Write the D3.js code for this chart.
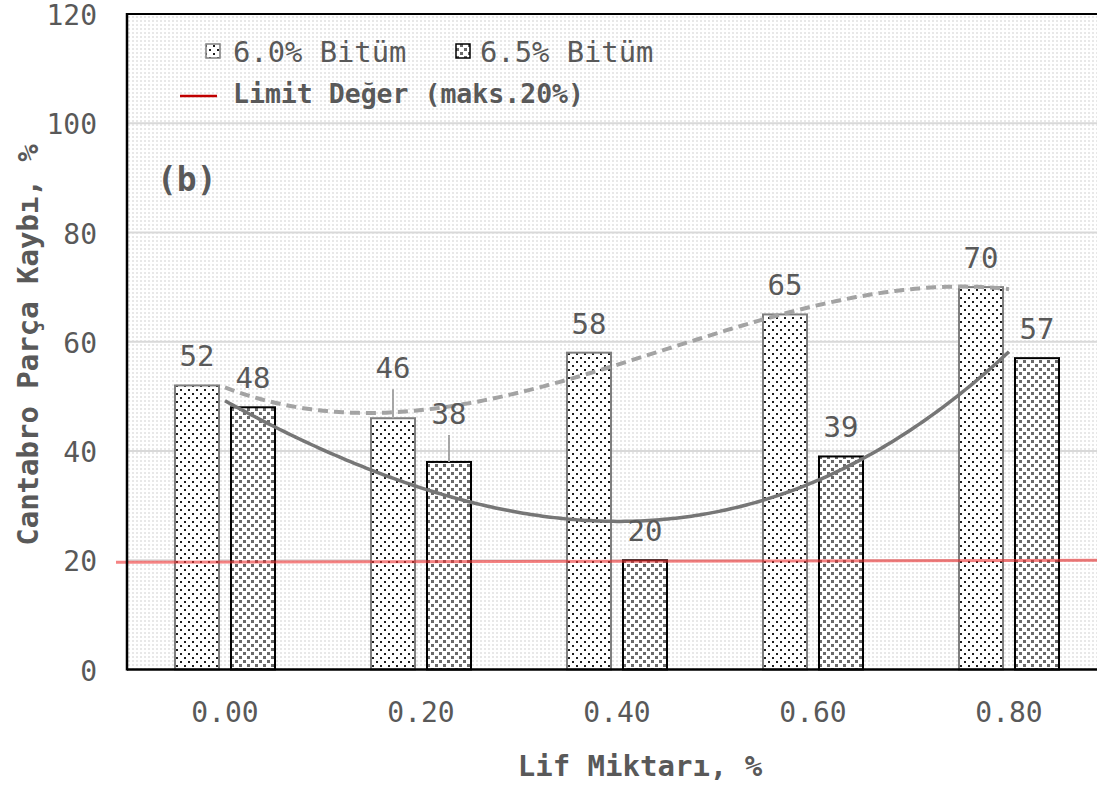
<!DOCTYPE html>
<html>
<head>
<meta charset="utf-8">
<script src="https://cdn.jsdelivr.net/npm/d3@7"></script>
<style>
  body { margin: 0; background: #fff; }
  text { font-family: "DejaVu Sans Mono", monospace; fill: #595959; }
</style>
</head>
<body>
<svg id="chart" width="1097" height="787"></svg>
<script>
// ---- data ----
const categories = ["0.00", "0.20", "0.40", "0.60", "0.80"];
const seriesNames = ["6.0% Bitüm", "6.5% Bitüm"];
const bitumen60 = [52, 46, 58, 65, 70];
const bitumen65 = [48, 38, 20, 39, 57];
const yTicks = [0, 20, 40, 60, 80, 100, 120];
const limitValue = 20;
const limitLabel = "Limit Değer (maks.20%)";
const panelLabel = "(b)";
const xTitle = "Lif Miktarı, %";
const yTitle = "Cantabro Parça Kaybı, %";

// ---- layout ----
const W = 1097, H = 787;
const plot = { left: 127, right: 1107, top: 14, bottom: 669.5 };
// labels moved up with a leader line (extra lift in px)
const labelLift = { "6.0% Bitüm": [0, 21, 0, 0, 0], "6.5% Bitüm": [0, 19, 0, 0, 0] };

const svg = d3.select("#chart");
svg.append("rect").attr("width", W).attr("height", H).attr("fill", "#fff");

const defs = svg.append("defs");
function dotPattern(id, size, cell, color, pts) {
  const p = defs.append("pattern").attr("id", id)
    .attr("patternUnits", "userSpaceOnUse").attr("width", size).attr("height", size);
  p.append("rect").attr("width", size).attr("height", size).attr("fill", "#fff");
  pts.forEach(([x, y]) => p.append("rect").attr("x", x).attr("y", y)
    .attr("width", cell).attr("height", cell).attr("fill", color));
}
dotPattern("bgDots", 4, 2, "#e8e8e8", [[0, 0]]);
dotPattern("fill60", 8, 2, "#1e1e1e", [[1, 1], [5, 5]]);
dotPattern("fill65", 8, 3, "#6a6a6a", [[0, 0], [4, 4]]);
const fills = { "6.0% Bitüm": "url(#fill60)", "6.5% Bitüm": "url(#fill65)" };
const strokes = { "6.0% Bitüm": "#7f7f7f", "6.5% Bitüm": "#000" };

// ---- scales ----
const x = d3.scaleBand().domain(categories).range([plot.left, plot.right]).padding(0);
const xs = d3.scaleBand().domain(seriesNames).range([0, x.bandwidth()])
  .paddingInner(12 / 56).paddingOuter(48 / 56);
const y = d3.scaleLinear().domain([0, 120]).range([plot.bottom, plot.top]);
const xIdx = d3.scaleLinear().domain([0, categories.length - 1])
  .range([x(categories[0]) + x.bandwidth() / 2, x(categories[categories.length - 1]) + x.bandwidth() / 2]);

const rows = categories.map((c, i) => ({ cat: c, i, values: [
  { s: seriesNames[0], v: bitumen60[i] }, { s: seriesNames[1], v: bitumen65[i] }] }));

// ---- plot background ----
svg.append("rect").attr("x", plot.left).attr("y", plot.top)
  .attr("width", plot.right - plot.left).attr("height", plot.bottom - plot.top)
  .attr("fill", "url(#bgDots)");

// gridlines
svg.append("g").selectAll("line").data(yTicks.filter(t => t > 0 && t < 120)).join("line")
  .attr("x1", plot.left).attr("x2", plot.right)
  .attr("y1", d => y(d)).attr("y2", d => y(d))
  .attr("stroke", "#d9d9d9").attr("stroke-width", 2);

// bars
const groups = svg.append("g").selectAll("g").data(rows).join("g")
  .attr("transform", d => `translate(${x(d.cat)},0)`);
groups.selectAll("rect").data(d => d.values).join("rect")
  .attr("x", d => xs(d.s)).attr("width", xs.bandwidth())
  .attr("y", d => y(d.v)).attr("height", d => y(0) - y(d.v))
  .attr("fill", d => fills[d.s]).attr("stroke", d => strokes[d.s]).attr("stroke-width", 2);

// limit line
svg.append("line").attr("x1", 116).attr("x2", W)
  .attr("y1", y(limitValue) + 2).attr("y2", y(limitValue))
  .attr("stroke", "#ee3030").attr("stroke-opacity", 0.6).attr("stroke-width", 3);

// polynomial (order 3) least-squares trendlines
function polyFit(vals, order) {
  const n = order + 1;
  const A = Array.from({ length: n }, () => new Array(n + 1).fill(0));
  vals.forEach((v, i) => {
    for (let r = 0; r < n; r++) {
      for (let c = 0; c < n; c++) A[r][c] += Math.pow(i, r + c);
      A[r][n] += v * Math.pow(i, r);
    }
  });
  for (let k = 0; k < n; k++) {
    let p = k;
    for (let r = k + 1; r < n; r++) if (Math.abs(A[r][k]) > Math.abs(A[p][k])) p = r;
    [A[k], A[p]] = [A[p], A[k]];
    for (let r = 0; r < n; r++) {
      if (r === k) continue;
      const f = A[r][k] / A[k][k];
      for (let c = k; c <= n; c++) A[r][c] -= f * A[k][c];
    }
  }
  const coef = A.map((row, k) => row[n] / row[k]);
  return t => coef.reduce((s, a, k) => s + a * Math.pow(t, k), 0);
}
const line = d3.line().x(d => xIdx(d[0])).y(d => y(d[1]));
const samples = d3.range(0, 4.0001, 0.02).map(t => Math.min(t, categories.length - 1));
const f60 = polyFit(bitumen60, 3), f65 = polyFit(bitumen65, 3);
svg.append("path").attr("d", line(samples.map(t => [t, f60(t)])))
  .attr("fill", "none").attr("stroke", "#a3a3a3").attr("stroke-width", 4)
  .attr("stroke-dasharray", "10,6");
svg.append("path").attr("d", line(samples.map(t => [t, f65(t)])))
  .attr("fill", "none").attr("stroke", "#767676").attr("stroke-width", 3.5);

// axes lines
svg.append("line").attr("x1", plot.left).attr("x2", plot.right).attr("y1", plot.top).attr("y2", plot.top)
  .attr("stroke", "#000").attr("stroke-width", 2);
svg.append("line").attr("x1", plot.left).attr("x2", plot.left).attr("y1", plot.top - 1).attr("y2", plot.bottom + 1)
  .attr("stroke", "#000").attr("stroke-width", 2.5);
svg.append("line").attr("x1", plot.left).attr("x2", plot.right).attr("y1", plot.bottom).attr("y2", plot.bottom)
  .attr("stroke", "#000").attr("stroke-width", 2.5);

// y tick labels
const yAxis = svg.append("g").attr("transform", `translate(${plot.left},0)`)
  .call(d3.axisLeft(y).tickValues(yTicks).tickSize(0).tickPadding(30));
yAxis.select(".domain").remove();
yAxis.selectAll("text").attr("font-size", 28).attr("dy", "0.38em")
  .style("font-family", '"DejaVu Sans Mono", monospace').attr("fill", "#595959");

// x tick labels
const xAxis = svg.append("g").attr("transform", `translate(0,${plot.bottom})`)
  .call(d3.axisBottom(x).tickSize(0).tickPadding(33));
xAxis.select(".domain").remove();
xAxis.selectAll("text").attr("font-size", 28)
  .style("font-family", '"DejaVu Sans Mono", monospace').attr("fill", "#595959");

// data labels with leader lines
rows.forEach(r => r.values.forEach(d => {
  const cx = x(r.cat) + xs(d.s) + xs.bandwidth() / 2;
  const lift = labelLift[d.s][r.i];
  const base = y(d.v) - 19 - lift;
  svg.append("text").attr("x", cx).attr("y", base).attr("text-anchor", "middle")
    .attr("font-size", 29).text(d.v);
  if (lift > 0) {
    svg.append("line").attr("x1", cx).attr("x2", cx).attr("y1", base + 11).attr("y2", y(d.v))
      .attr("stroke", "#a6a6a6").attr("stroke-width", 2);
  }
}));

// panel label
svg.append("text").attr("x", 157).attr("y", 191).attr("font-size", 33)
  .attr("font-weight", "bold").text(panelLabel);

// legend
const lg = svg.append("g");
[[seriesNames[0], 206, 233], [seriesNames[1], 456, 480]].forEach(([s, sx, tx]) => {
  lg.append("rect").attr("x", sx).attr("y", 44).attr("width", 14).attr("height", 14)
    .attr("fill", fills[s]).attr("stroke", strokes[s]).attr("stroke-width", 1.5);
  lg.append("text").attr("x", tx).attr("y", 62).attr("font-size", 28.8).text(s);
});
lg.append("line").attr("x1", 180).attr("x2", 217).attr("y1", 96).attr("y2", 96)
  .attr("stroke", "#c00000").attr("stroke-width", 2.5);
lg.append("text").attr("x", 233).attr("y", 103).attr("font-size", 26.5)
  .attr("font-weight", "bold").text(limitLabel);

// axis titles
svg.append("text").attr("x", 640).attr("y", 776).attr("text-anchor", "middle")
  .attr("font-size", 29).attr("font-weight", "bold").text(xTitle);
svg.append("text").attr("transform", "translate(38,345) rotate(-90)").attr("text-anchor", "middle")
  .attr("font-size", 29).attr("font-weight", "bold").text(yTitle);
</script>
</body>
</html>
